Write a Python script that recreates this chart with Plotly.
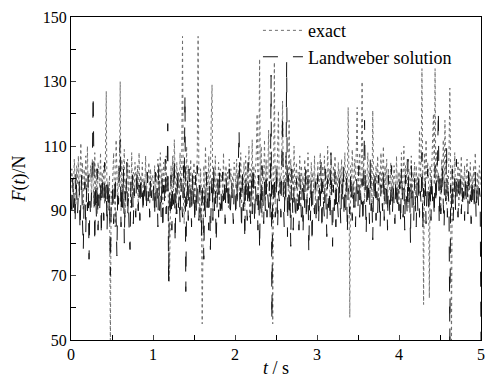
import numpy as np
import plotly.graph_objects as go

t = np.round(np.arange(0, 501) * 0.01, 2)

exact = [
    97,103,99,95,106,101,92,104,98,107,94,101,111,96,105,90,103,98,107,93,
    110,96,102,99,104,93,106,99,91,108,96,103,89,105,100,97,108,94,102,96,
    104,92,107,127,88,99,94,101,48,96,
    94,101,108,96,85,112,99,93,104,97,130,90,106,95,102,109,88,100,97,106,
    93,104,99,91,108,96,102,94,105,99,97,104,91,108,95,101,98,105,93,100,
    96,107,94,102,99,105,92,103,97,101,
    100,96,104,93,102,98,106,95,101,108,97,103,92,105,99,94,107,96,101,90,
    68,99,104,92,107,96,112,101,89,105,97,102,93,108,96,101,144,94,86,103,
    97,110,92,104,99,95,106,91,102,98,
    105,91,102,97,108,144,99,88,103,96,55,96,104,93,110,98,102,95,107,93,
    101,118,129,90,102,96,107,94,100,97,105,92,103,99,101,95,108,93,100,104,
    96,102,91,106,99,103,94,101,97,105,
    102,97,106,93,100,104,95,108,92,101,98,105,90,107,96,103,94,110,88,103,
    99,112,93,104,97,101,108,120,95,102,137,94,110,88,103,99,112,93,106,97,
    101,115,94,108,99,104,55,97,136,92,
    104,97,108,121,95,101,99,106,124,95,101,93,107,99,104,96,118,90,106,99,
    103,94,110,96,100,105,93,102,97,107,91,104,98,101,95,106,99,103,92,108,
    97,101,94,105,99,102,96,107,93,100,
    96,105,93,101,108,95,99,104,91,107,97,102,94,110,98,103,92,106,100,96,
    104,99,107,93,101,97,105,92,103,98,106,95,101,99,108,94,102,97,122,100,
    57,104,96,109,101,95,106,99,110,122,
    95,101,108,93,104,130,98,107,92,103,97,100,108,94,102,97,105,91,121,99,
    101,95,104,98,107,93,102,97,108,95,101,110,92,104,98,106,91,103,100,96,
    105,93,101,97,104,99,95,107,94,102,
    93,102,97,108,95,101,110,92,104,98,106,91,103,100,96,107,94,102,99,105,
    92,104,98,101,95,115,100,106,134,99,61,108,96,112,100,105,99,63,104,96,
    107,110,120,98,134,94,108,99,102,96,
    99,90,106,97,112,95,118,104,92,101,96,108,128,99,48,104,92,101,108,94,
    100,96,105,91,103,98,107,93,101,97,104,95,99,106,92,102,98,105,93,101,
    97,104,95,108,99,93,102,96,104,99,
    98,
]

landweber = [
    95,88,100,91,97,86,102,93,89,96,99,84,92,101,87,78,94,99,83,97,
    90,101,75,93,88,96,104,126,92,80,97,88,103,84,95,90,99,82,101,93,
    87,105,91,98,84,100,89,95,70,92,
    90,99,86,94,101,88,76,97,92,104,112,85,98,90,103,80,96,92,105,88,
    94,83,78,99,91,101,86,97,93,88,103,95,90,98,87,101,93,96,89,100,
    94,98,90,102,93,96,88,100,94,97,
    93,99,88,102,91,97,85,104,90,96,88,101,84,98,92,106,89,95,117,68,
    96,90,101,84,98,92,106,80,97,89,103,91,95,86,100,93,88,104,94,126,
    65,94,100,87,103,91,97,85,101,92,
    97,86,101,89,104,92,87,98,93,82,99,90,75,96,88,102,91,97,84,99,
    78,94,101,87,104,90,96,80,95,100,88,103,90,96,88,102,93,99,86,101,
    94,97,90,103,88,95,99,92,86,98,
    96,88,99,93,102,115,90,97,84,103,90,97,81,101,93,87,105,91,96,86,
    100,89,104,93,86,98,91,95,84,101,78,97,89,104,93,86,99,90,102,88,
    95,91,99,87,132,56,98,92,101,88,
    90,104,85,96,93,99,88,101,120,93,85,99,92,136,82,101,88,96,79,103,
    91,84,98,94,87,100,90,96,84,101,92,88,97,83,99,91,104,87,95,100,
    77,94,87,100,80,96,92,89,99,86,
    93,101,86,97,90,105,84,99,92,88,103,95,82,100,91,96,87,108,93,79,
    98,90,102,85,97,91,88,101,94,86,99,92,104,88,95,90,100,83,97,92,
    89,102,94,87,99,91,96,85,101,93,
    91,104,88,96,92,100,86,99,118,95,83,100,92,97,86,106,90,94,81,99,
    93,102,87,96,89,101,92,85,98,94,90,103,87,97,92,99,84,101,93,88,
    96,104,89,98,92,86,100,94,90,97,
    90,99,86,103,93,88,97,84,101,95,89,106,92,98,80,104,91,96,87,100,
    93,85,99,90,102,88,96,92,108,84,97,91,100,86,95,103,89,94,99,87,
    101,93,96,88,104,92,98,106,121,86,
    100,89,97,104,92,85,99,93,110,88,96,91,50,98,91,103,87,95,100,90,
    106,93,88,99,94,102,89,97,91,96,87,101,93,98,89,104,92,95,86,100,
    93,97,90,102,88,96,99,91,97,94,
    50,
]

font = '"Liberation Serif", "Times New Roman", Times, serif'

fig = go.Figure()
fig.add_trace(go.Scatter(x=t[:len(exact)], y=exact, mode="lines", name="exact",
                         line=dict(color="#6e6e6e", width=1, dash="dot")))
fig.add_trace(go.Scatter(x=t[:len(landweber)], y=landweber, mode="lines", name="Landweber solution",
                         line=dict(color="#111111", width=1, dash="longdash")))

fig.update_layout(
    width=487, height=378,
    margin=dict(l=71, r=6, t=17, b=38),
    paper_bgcolor="white", plot_bgcolor="white",
    font=dict(family=font, size=16, color="black"),
    showlegend=True,
    legend=dict(x=0.456, y=1.015, xanchor="left", yanchor="top",
                bgcolor="rgba(0,0,0,0)", font=dict(size=18),
                itemwidth=40, tracegroupgap=0),
    xaxis=dict(range=[0, 5], dtick=1, tick0=0, ticks="inside", ticklen=5,
               showline=True, linecolor="black", linewidth=1, mirror=True,
               showgrid=False, zeroline=False, automargin=False,
               minor=dict(dtick=0.5, ticks="inside", ticklen=5, tickcolor="black"),
               title=dict(text="<i>t</i> / s", font=dict(size=18), standoff=8)),
    yaxis=dict(range=[50, 150], ticks="inside", ticklen=5,
               tickvals=[50, 70, 90, 110, 130, 150],
               showline=True, linecolor="black", linewidth=1, mirror=True,
               showgrid=False, zeroline=False, automargin=False,
               minor=dict(tickvals=[60, 80, 100, 120, 140], ticks="inside", ticklen=5, tickcolor="black"),
               title=dict(text="<i>F</i>(<i>t</i>)/N", font=dict(size=18), standoff=12)),
)

fig.write_html("out.html")
